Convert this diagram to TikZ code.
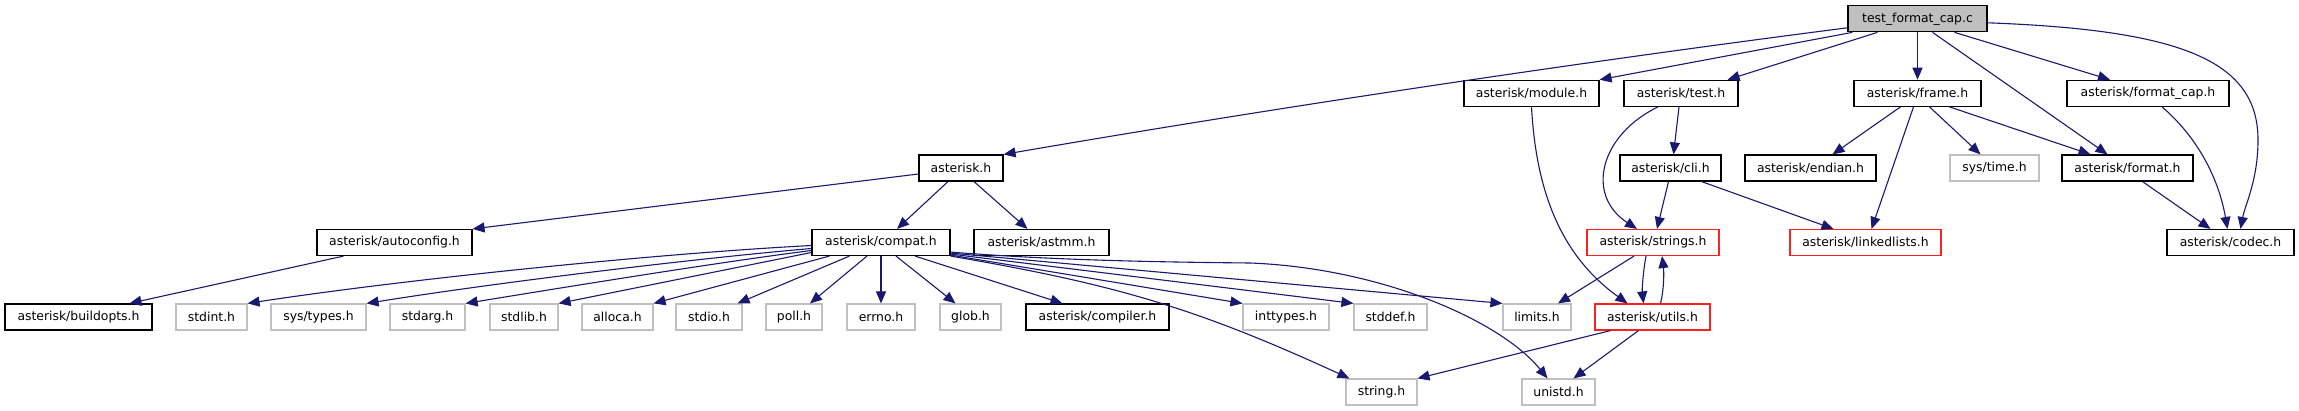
\documentclass[tikz,border=0pt]{standalone}
\usepackage{fontspec}
\setmainfont{DejaVu Sans}
\usetikzlibrary{arrows.meta}
\definecolor{edgec}{HTML}{191970}
\definecolor{grayb}{HTML}{BFBFBF}
\definecolor{redb}{HTML}{FF2020}
\tikzset{
  hbox/.style={draw=black, line width=1.15pt, fill=white, inner sep=0pt, text=black,
    font=\fontsize{12.4}{14}\selectfont, minimum height=26pt},
  sysbox/.style={hbox, draw=grayb},
  redbox/.style={hbox, draw=redb},
  rootbox/.style={hbox, fill=grayb},
  dep/.style={draw=edgec, line width=1.1pt, -{Triangle[length=12pt,width=10pt]}}
}
\newcommand\bx[6]{\node[#1, minimum width={(#4-#3)*1pt}] (#2) at ({(#3+#4)/2},#5) {#6};}
\begin{document}
\begin{tikzpicture}[x=1pt,y=-1pt]
\useasboundingbox[fill=white] (0,0) rectangle (2299,411);
% row 1
\bx{rootbox}{root}{1848}{1987}{18.8}{test\_format\_cap.c}
% row 2
\bx{hbox}{module}{1464}{1599}{93.3}{asterisk/module.h}
\bx{hbox}{test}{1624}{1738}{93.3}{asterisk/test.h}
\bx{hbox}{frame}{1854}{1981}{93.3}{asterisk/frame.h}
\bx{hbox}{fcap}{2067}{2229}{93.3}{asterisk/format\_cap.h}
% row 3
\bx{hbox}{asterisk}{919}{1003}{168}{asterisk.h}
\bx{hbox}{cli}{1620}{1721}{168}{asterisk/cli.h}
\bx{hbox}{endian}{1745}{1876}{168}{asterisk/endian.h}
\bx{sysbox}{systime}{1950}{2039}{168}{sys/time.h}
\bx{hbox}{format}{2062}{2193}{168}{asterisk/format.h}
% row 4
\bx{hbox}{autoconfig}{317}{472}{242.5}{asterisk/autoconfig.h}
\bx{hbox}{compat}{812}{950}{242.5}{asterisk/compat.h}
\bx{hbox}{astmm}{974}{1109}{242.5}{asterisk/astmm.h}
\bx{redbox}{strings}{1587}{1719}{242.5}{asterisk/strings.h}
\bx{redbox}{linkedlists}{1790}{1941}{242.5}{asterisk/linkedlists.h}
\bx{hbox}{codec}{2167}{2294}{242.5}{asterisk/codec.h}
% row 5
\bx{hbox}{buildopts}{5}{152}{317}{asterisk/buildopts.h}
\bx{sysbox}{stdint}{176}{247}{317}{stdint.h}
\bx{sysbox}{systypes}{271}{366}{317}{sys/types.h}
\bx{sysbox}{stdarg}{390}{465}{317}{stdarg.h}
\bx{sysbox}{stdlib}{490}{558}{317}{stdlib.h}
\bx{sysbox}{alloca}{582}{653}{317}{alloca.h}
\bx{sysbox}{stdio}{676}{742}{317}{stdio.h}
\bx{sysbox}{poll}{766}{822}{317}{poll.h}
\bx{sysbox}{errno}{847}{915}{317}{errno.h}
\bx{sysbox}{glob}{940}{1001}{317}{glob.h}
\bx{hbox}{compiler}{1026}{1169}{317}{asterisk/compiler.h}
\bx{sysbox}{inttypes}{1243}{1329}{317}{inttypes.h}
\bx{sysbox}{stddef}{1354}{1427}{317}{stddef.h}
\bx{sysbox}{limits}{1503}{1571}{317}{limits.h}
\bx{redbox}{utils}{1595}{1710}{317}{asterisk/utils.h}
% row 6
\bx{sysbox}{string}{1346}{1417}{392}{string.h}
\bx{sysbox}{unistd}{1522}{1595}{392}{unistd.h}

% edges from root
\draw[dep] ([yshift=-9pt]root.west) .. controls (1550,66) and (1250,112) .. (asterisk.north east);
\draw[dep] ([xshift=5pt]root.south west) -- (module.north east);
\draw[dep] ([xshift=30pt]root.south west) -- ([xshift=-11pt]test.north east);
\draw[dep] (root.south) -- (frame.north);
\draw[dep] ([xshift=15pt]root.south) -- ([xshift=-20pt]format.north);
\draw[dep] ([xshift=37pt]root.south) -- ([xshift=-38pt]fcap.north);
\draw[dep] ([yshift=-4pt]root.east) .. controls (2180,30) and (2258,60) .. (2258,140)
  .. controls (2258,180) and (2245,205) .. ([xshift=10pt]codec.north);
% module, test, cli, frame
\draw[dep] (module.south) .. controls (1536,190) and (1560,255) .. ([xshift=-25pt]utils.north);
\draw[dep] ([xshift=-23pt]test.south) .. controls (1600,135) and (1585,195) .. ([xshift=-16pt]strings.north);
\draw[dep] ([xshift=-2pt]test.south) -- ([xshift=3pt]cli.north);
\draw[dep] ([xshift=-2pt]cli.south) -- ([xshift=4pt]strings.north);
\draw[dep] ([xshift=31pt]cli.south) -- ([xshift=-32pt]linkedlists.north);
\draw[dep] ([xshift=-17pt]frame.south) -- ([xshift=22pt]endian.north);
\draw[dep] ([xshift=-4pt]frame.south) -- ([xshift=6pt]linkedlists.north);
\draw[dep] ([xshift=12pt]frame.south) -- ([xshift=-14pt]systime.north);
\draw[dep] ([xshift=32pt]frame.south) -- ([xshift=-37pt]format.north);
\draw[dep] ([xshift=14pt]fcap.south) .. controls (2195,135) and (2218,175) .. ([xshift=-3pt]codec.north);
\draw[dep] ([xshift=15pt]format.south) -- ([xshift=-20pt]codec.north);
% strings / utils
\draw[dep] ([xshift=-19pt]strings.south) -- ([xshift=21pt]limits.north);
\draw[dep] ([xshift=-7pt]strings.south) .. controls (1643,272) and (1642,290) .. ([xshift=-9pt]utils.north);
\draw[dep] ([xshift=8pt]utils.north) .. controls (1664,290) and (1664,272) .. ([xshift=9pt]strings.south);
\draw[dep] ([xshift=-42pt]utils.south) -- (string.north east);
\draw[dep] ([xshift=-14pt]utils.south) -- ([xshift=15pt]unistd.north);
% asterisk.h
\draw[dep] ([yshift=-6pt]asterisk.west) -- (autoconfig.north east);
\draw[dep] ([xshift=-13pt]asterisk.south) -- ([xshift=16pt]compat.north);
\draw[dep] ([xshift=13pt]asterisk.south) -- ([xshift=-14pt]astmm.north);
\draw[dep] ([xshift=-51pt]autoconfig.south) -- ([xshift=51pt]buildopts.north);
% compat.h fan
\draw[dep] ([yshift=-3pt]compat.west) .. controls (650,254) and (400,280) .. (stdint.north east);
\draw[dep] ([yshift=-6pt]compat.west) .. controls (700,258) and (500,282) .. (systypes.north east);
\draw[dep] ([yshift=-8pt]compat.west) .. controls (720,262) and (560,288) .. (stdarg.north east);
\draw[dep] ([yshift=-10pt]compat.west) -- (stdlib.north east);
\draw[dep] ([xshift=18pt]compat.south west) -- (alloca.north east);
\draw[dep] ([xshift=38pt]compat.south west) -- ([xshift=-5pt]stdio.north east);
\draw[dep] ([xshift=-14pt]compat.south) -- ([xshift=16pt]poll.north);
\draw[dep] (compat.south) -- (errno.north);
\draw[dep] ([xshift=15pt]compat.south) -- ([xshift=-15pt]glob.north);
\draw[dep] ([xshift=34pt]compat.south) -- ([xshift=-35pt]compiler.north);
\draw[dep] ([yshift=1pt]compat.south east) -- (inttypes.north west);
\draw[dep] ([yshift=2pt]compat.south east) -- (stddef.north west);
\draw[dep] ([yshift=3pt]compat.south east) -- (limits.north west);
\draw[dep] (compat.south east) .. controls (1120,285) and (1200,310) .. ([xshift=4pt]string.north west);
\draw[dep] ([yshift=4pt]compat.south east) .. controls (1050,260) and (1150,262) .. (1250,263)
  .. controls (1380,268) and (1500,320) .. ([xshift=-11pt]unistd.north);
\end{tikzpicture}
\end{document}
